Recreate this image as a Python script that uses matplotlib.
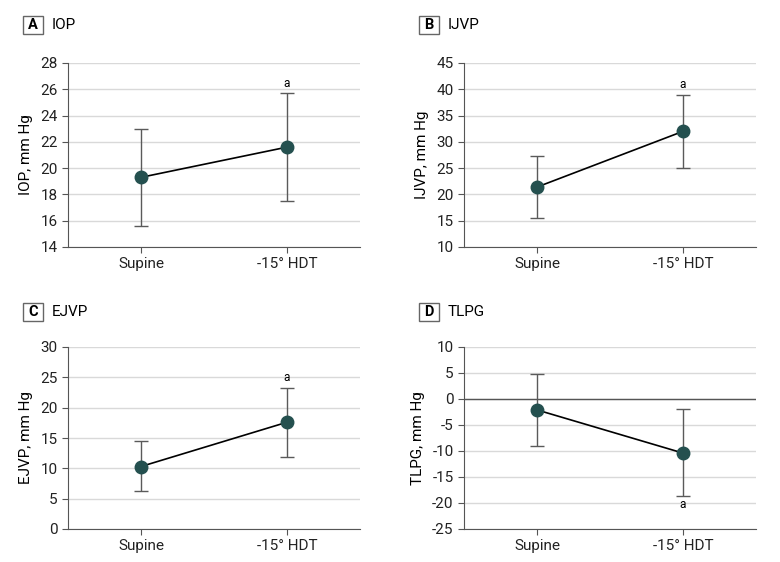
import matplotlib
matplotlib.use("Agg")
import matplotlib.pyplot as plt
from matplotlib.patches import Rectangle

plt.rcParams['font.family'] = ['Roboto', 'DejaVu Sans']

conditions = ["Supine", "-15\u00b0 HDT"]

panel_letters = ["A", "B", "C", "D"]
panel_titles = ["IOP", "IJVP", "EJVP", "TLPG"]
ylabels = ["IOP, mm Hg", "IJVP, mm Hg", "EJVP, mm Hg", "TLPG, mm Hg"]

iop_mean = [19.3, 21.6]
iop_low = [15.6, 17.5]
iop_high = [23.0, 25.7]

ijvp_mean = [21.4, 32.0]
ijvp_low = [15.5, 25.1]
ijvp_high = [27.4, 38.9]

ejvp_mean = [10.3, 17.6]
ejvp_low = [6.2, 11.9]
ejvp_high = [14.5, 23.3]

tlpg_mean = [-2.1, -10.4]
tlpg_low = [-9.0, -18.7]
tlpg_high = [4.9, -1.9]

ylims = [(14, 28), (10, 45), (0, 30), (-25, 10)]
ysteps = [2, 5, 5, 5]

means = [iop_mean, ijvp_mean, ejvp_mean, tlpg_mean]
lows = [iop_low, ijvp_low, ejvp_low, tlpg_low]
highs = [iop_high, ijvp_high, ejvp_high, tlpg_high]

W, H = 780, 562
fig = plt.figure(figsize=(W / 100, H / 100), dpi=100)

# axes boxes in pixels: left, top, right, bottom
boxes = [(68, 63, 360, 247), (464, 63, 756, 247),
         (68, 347, 360, 529), (464, 347, 756, 529)]
tag_pos = [(23, 16), (419, 16), (23, 303), (419, 303)]

teal = "#24504f"
for i in range(4):
    l, t, r, b = boxes[i]
    ax = fig.add_axes([l / W, 1 - b / H, (r - l) / W, (b - t) / H])
    x = [0, 1]
    m = means[i]
    lo = [m[k] - lows[i][k] for k in range(2)]
    hi = [highs[i][k] - m[k] for k in range(2)]
    ax.errorbar(x, m, yerr=[lo, hi], fmt='none', ecolor="#5a5a5a",
                elinewidth=1, capsize=5, capthick=1, zorder=3)
    ax.plot(x, m, color="black", lw=1.2, zorder=4)
    ax.plot(x, m, 'o', color=teal, ms=9, zorder=5)

    y0, y1 = ylims[i]
    ax.set_ylim(y0, y1)
    ax.set_xlim(-0.5, 1.5)
    ticks = list(range(y0, y1 + 1, ysteps[i]))
    ax.set_yticks(ticks)
    ax.set_yticklabels([str(v) for v in ticks])
    ax.set_xticks(x)
    ax.set_xticklabels(conditions)
    ax.grid(axis='y', color="#d9d9d9", lw=1)
    ax.set_axisbelow(True)
    for s in ['top', 'right']:
        ax.spines[s].set_visible(False)
    for s in ['left', 'bottom']:
        ax.spines[s].set_color("#555555")
    ax.tick_params(colors="#222222", labelsize=11, length=4, color="#555555")
    ax.set_ylabel(ylabels[i], fontsize=11, labelpad=5)
    if i == 3:
        ax.axhline(0, color="#555555", lw=1, zorder=2)
        ax.text(1, tlpg_low[1] - 0.4, "a", ha='center', va='top', fontsize=8.5)
    else:
        ax.text(1, highs[i][1] + (y1 - y0) * 0.02, "a", ha='center',
                va='bottom', fontsize=8.5)

    tx, ty = tag_pos[i]
    fig.patches.append(Rectangle((tx / W, 1 - (ty + 18) / H), 20 / W, 18 / H,
                                 transform=fig.transFigure, fill=False,
                                 edgecolor="#666666", lw=1))
    fig.text((tx + 10) / W, 1 - (ty + 9) / H, panel_letters[i], ha='center',
             va='center', fontsize=10.5, fontweight='bold')
    fig.text((tx + 29) / W, 1 - (ty + 9) / H, panel_titles[i], ha='left',
             va='center', fontsize=11)

fig.savefig("out.png", dpi=100, facecolor="white")
